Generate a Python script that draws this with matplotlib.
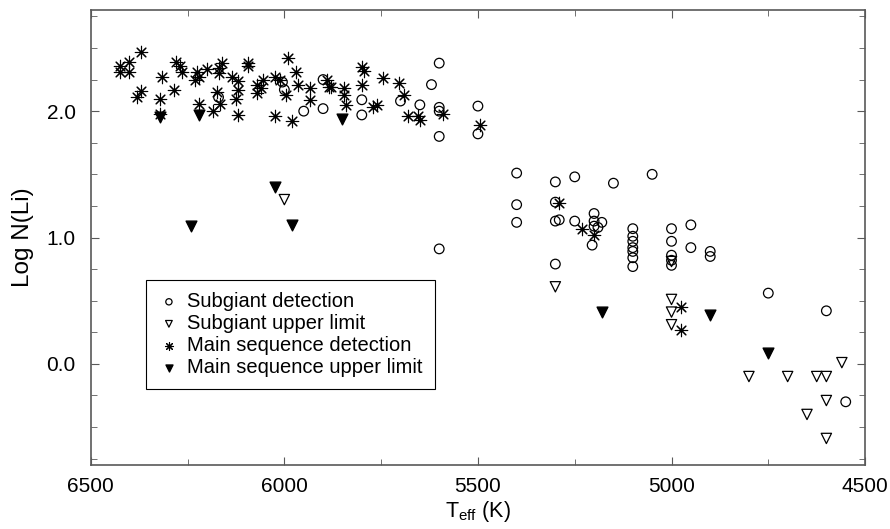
import numpy as np
import matplotlib
matplotlib.use("Agg")
import matplotlib.pyplot as plt
from matplotlib.ticker import MultipleLocator, FormatStrFormatter

plt.rcParams["font.family"] = ["Liberation Sans", "DejaVu Sans"]
plt.rcParams["mathtext.fontset"] = "custom"
plt.rcParams["mathtext.rm"] = "Liberation Sans"
plt.rcParams["mathtext.it"] = "Liberation Sans"

# subgiant detections
sg_teff = [6170, 6005, 6000, 5950, 5900, 5900, 5800, 5800, 5700, 5650,
           5620, 5600, 5600, 5600, 5600, 5600, 5500, 5500,
           5400, 5400, 5400, 5300, 5300, 5300, 5290, 5250, 5250,
           5150, 5050, 5300, 5200, 5200, 5200, 5190, 5180, 5205,
           5100, 5100, 5100, 5100, 5100, 5100, 5100,
           5000, 5000, 5000, 5000, 5000, 4950, 4950, 4900, 4900,
           4750, 4600, 4550]
sg_logn = [2.11, 2.23, 2.17, 2.00, 2.25, 2.02, 2.09, 1.97, 2.08, 2.05,
           2.21, 2.38, 2.03, 2.00, 1.80, 0.91, 2.04, 1.82,
           1.51, 1.26, 1.12, 1.44, 1.28, 1.13, 1.14, 1.48, 1.13,
           1.43, 1.50, 0.79, 1.19, 1.13, 1.09, 1.08, 1.12, 0.94,
           1.07, 1.01, 0.97, 0.92, 0.89, 0.84, 0.77,
           1.07, 0.97, 0.86, 0.82, 0.78, 1.10, 0.92, 0.89, 0.85,
           0.56, 0.42, -0.30]

# subgiant upper limits
sgu_teff = [6000, 5300, 5000, 5000, 5000, 5000, 4800, 4700, 4625, 4600,
            4560, 4600, 4650, 4600]
sgu_logn = [1.30, 0.61, 0.81, 0.51, 0.41, 0.31, -0.10, -0.10, -0.10, -0.10,
            0.01, -0.29, -0.40, -0.59]

# main sequence detections
ms_teff = [6425, 6425, 6400, 6400, 6370, 6315, 6370, 6380, 6320, 6320,
           6285, 6280, 6270, 6265, 6230, 6225, 6220, 6200, 6220, 6185,
           6170, 6170, 6175, 6165, 6160, 6135, 6120, 6120, 6125, 6120,
           6095, 6095, 6070, 6070, 6060, 6055, 6025, 6025,
           5990, 6010, 5970, 5965, 5995, 5935, 5935, 5980,
           5890, 5885, 5880, 5845, 5845, 5840, 5800, 5795, 5800,
           5770, 5760, 5745, 5705, 5690, 5680, 5655, 5650, 5590, 5495,
           5290, 5230, 5200, 4975, 4975]
ms_logn = [2.36, 2.31, 2.39, 2.31, 2.47, 2.27, 2.16, 2.11, 2.10, 1.98,
           2.17, 2.39, 2.36, 2.31, 2.25, 2.31, 2.27, 2.33, 2.06, 2.00,
           2.34, 2.30, 2.15, 2.06, 2.38, 2.27, 2.24, 2.17, 2.10, 1.97,
           2.38, 2.36, 2.21, 2.14, 2.18, 2.25, 2.27, 1.96,
           2.42, 2.25, 2.31, 2.21, 2.13, 2.18, 2.09, 1.92,
           2.25, 2.19, 2.19, 2.18, 2.13, 2.05, 2.35, 2.32, 2.21,
           2.03, 2.05, 2.26, 2.22, 2.13, 1.96, 1.96, 1.93, 1.98, 1.89,
           1.27, 1.07, 1.02, 0.45, 0.27]

# main sequence upper limits
msu_teff = [6320, 6220, 5850, 6025, 5980, 6240, 5180, 4900, 4750]
msu_logn = [1.95, 1.97, 1.94, 1.40, 1.10, 1.09, 0.41, 0.39, 0.09]

fig = plt.figure(figsize=(8.9, 5.29), dpi=100)
ax = fig.add_axes([0.102, 0.121, 0.870, 0.860])

ax.scatter(sg_teff, sg_logn, s=48, marker="o", facecolors="none",
           edgecolors="black", linewidths=0.9, label="Subgiant detection", zorder=3)
ax.scatter(sgu_teff, sgu_logn, s=55, marker="v", facecolors="none",
           edgecolors="black", linewidths=0.9, label="Subgiant upper limit", zorder=3)
ax.scatter(ms_teff, ms_logn, s=80, marker=(8, 2, 0), color="black",
           linewidths=0.8, label="Main sequence detection", zorder=3)
ax.scatter(msu_teff, msu_logn, s=60, marker="v", color="black",
           label="Main sequence upper limit", zorder=3)

ax.set_xlim(6500, 4500)
ax.set_ylim(-0.8, 2.8)
ax.xaxis.set_major_locator(MultipleLocator(500))
ax.xaxis.set_minor_locator(MultipleLocator(250))
ax.yaxis.set_major_locator(MultipleLocator(1.0))
ax.yaxis.set_minor_locator(MultipleLocator(0.25))
ax.yaxis.set_major_formatter(FormatStrFormatter("%.1f"))

ax.tick_params(which="both", direction="in", top=True, right=True,
               labelsize=15, color="0.35")
ax.tick_params(which="major", length=6)
ax.tick_params(which="minor", length=4)
ax.tick_params(axis="x", which="major", pad=9)
ax.tick_params(axis="y", which="major", pad=11)
for sp in ax.spines.values():
    sp.set_color("0.35")
    sp.set_linewidth(1.2)

ax.set_xlabel(r"T$_{\mathrm{eff}}$ (K)", fontsize=15.5, labelpad=2)
ax.set_ylabel("Log N(Li)", fontsize=17.5, labelpad=9)

leg = ax.legend(loc="upper left", bbox_to_anchor=(0.071, 0.4066), fontsize=14.5,
                fancybox=False, edgecolor="black", framealpha=1, markerscale=0.65,
                handletextpad=0.35, labelspacing=0.15, borderpad=0.6,
                handlelength=1.1, scatterpoints=1, borderaxespad=0)
leg.get_frame().set_linewidth(0.8)

fig.savefig("out.png", dpi=100)
